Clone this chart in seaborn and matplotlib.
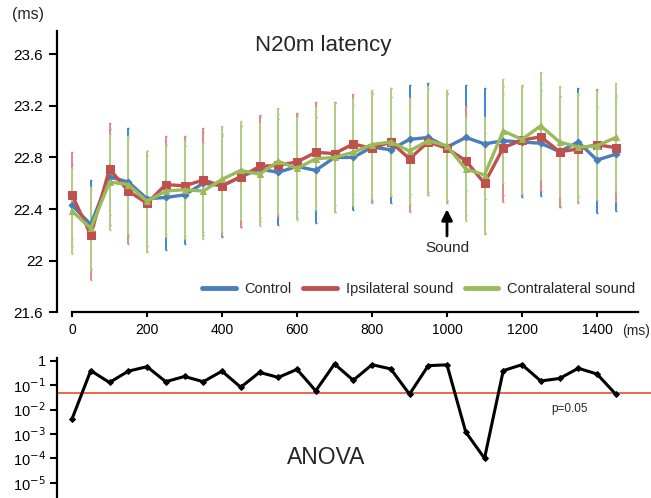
import pandas as pd
import matplotlib
matplotlib.use('Agg')
import matplotlib.pyplot as plt
import seaborn as sns
from matplotlib.lines import Line2D
from matplotlib.ticker import FuncFormatter, NullLocator

# Data
times = [0, 50, 100, 150, 200, 250, 300, 350, 400, 450, 500, 550, 600, 650, 700,
         750, 800, 850, 900, 950, 1000, 1050, 1100, 1150, 1200, 1250, 1300, 1350, 1400, 1450]

control = [22.43, 22.28, 22.65, 22.61, 22.48, 22.49, 22.51, 22.60, 22.58, 22.65,
           22.71, 22.685, 22.73, 22.70, 22.80, 22.80, 22.88, 22.86, 22.94, 22.955,
           22.88, 22.955, 22.905, 22.93, 22.92, 22.91, 22.845, 22.92, 22.78, 22.825]
ipsi = [22.51, 22.20, 22.71, 22.54, 22.445, 22.59, 22.58, 22.625, 22.58, 22.65,
        22.73, 22.74, 22.765, 22.84, 22.83, 22.905, 22.87, 22.92, 22.79, 22.92,
        22.87, 22.775, 22.60, 22.875, 22.935, 22.96, 22.845, 22.865, 22.90, 22.875]
contra = [22.385, 22.25, 22.61, 22.59, 22.46, 22.54, 22.55, 22.54, 22.63, 22.70,
          22.67, 22.77, 22.715, 22.79, 22.80, 22.84, 22.90, 22.92, 22.85, 22.93,
          22.89, 22.71, 22.665, 23.005, 22.94, 23.045, 22.92, 22.88, 22.89, 22.955]

control_err = [0.32, 0.345, 0.37, 0.42, 0.37, 0.41, 0.38, 0.40, 0.40, 0.39,
               0.40, 0.41, 0.40, 0.41, 0.42, 0.41, 0.42, 0.41, 0.42, 0.42,
               0.42, 0.41, 0.43, 0.42, 0.43, 0.41, 0.43, 0.42, 0.41, 0.44]
ipsi_err = [0.335, 0.35, 0.355, 0.41, 0.375, 0.38, 0.39, 0.40, 0.39, 0.39,
            0.40, 0.40, 0.38, 0.39, 0.40, 0.39, 0.42, 0.42, 0.41, 0.41,
            0.42, 0.42, 0.39, 0.42, 0.42, 0.42, 0.43, 0.42, 0.43, 0.42]
contra_err = [0.335, 0.32, 0.37, 0.38, 0.39, 0.36, 0.38, 0.37, 0.41, 0.385,
              0.40, 0.41, 0.40, 0.40, 0.42, 0.42, 0.42, 0.42, 0.41, 0.42,
              0.43, 0.40, 0.45, 0.40, 0.42, 0.42, 0.43, 0.42, 0.42, 0.42]

anova_p = [0.0041, 0.40, 0.13, 0.38, 0.58, 0.14, 0.23, 0.14, 0.38, 0.083,
           0.34, 0.21, 0.45, 0.059, 0.75, 0.16, 0.70, 0.47, 0.043, 0.64,
           0.69, 0.0012, 0.0001, 0.40, 0.70, 0.15, 0.19, 0.50, 0.29, 0.043]

labels = ['Control', 'Ipsilateral sound', 'Contralateral sound']
colors = ['#4a7ebb', '#c0504d', '#9bbb59']
err_colors = ['#3f86d4', '#e08a88', '#b0cf84']
markers = ['D', 's', '^']
msizes = [3.5, 5.5, 5]

sns.set_style('ticks')
plt.rcParams['font.family'] = ['Liberation Sans', 'DejaVu Sans']

fig = plt.figure(figsize=(6.51, 4.98), dpi=100)

# top panel
ax = fig.add_axes([57 / 651, 1 - 312.3 / 498, (638.25 - 57) / 651, (312.3 - 31) / 498])

series = [control, ipsi, contra]
errs = [control_err, ipsi_err, contra_err]
for vals, err, col in zip(series, errs, err_colors):
    ax.errorbar(times, vals, yerr=err, fmt='none', ecolor=col, elinewidth=1.4,
                capsize=1, zorder=1)

for vals, col, mk, ms in zip(series, colors, markers, msizes):
    sns.lineplot(x=times, y=vals, color=col, marker=mk, markersize=ms,
                 markeredgecolor=col, linewidth=2.4, ax=ax, zorder=3)

ax.set_xlim(-40, 1510)
ax.set_ylim(21.6, 23.78)
ax.set_xticks([0, 200, 400, 600, 800, 1000, 1200, 1400])
ax.set_yticks([21.6, 22.0, 22.4, 22.8, 23.2, 23.6])
ax.yaxis.set_major_formatter(FuncFormatter(lambda v, p: '%g' % round(v, 1)))
ax.spines['top'].set_visible(False)
ax.spines['right'].set_visible(False)
ax.spines['bottom'].set_bounds(0, 1510)
for s in ['left', 'bottom']:
    ax.spines[s].set_linewidth(1.6)
    ax.spines[s].set_color('black')
ax.tick_params(axis='x', direction='out', length=3.5, width=1.5, labelsize=10,
               colors='black', pad=4)
ax.tick_params(axis='y', direction='out', length=5.5, width=1.5, labelsize=11,
               colors='black', pad=4.5)
ax.set_xlabel('')
ax.set_ylabel('')

ax.text(669, 23.67, 'N20m latency', ha='center', va='center', fontsize=16)
ax.annotate('', xy=(1000, 22.42), xytext=(1000, 22.17),
            arrowprops=dict(arrowstyle='-|>', color='black', lw=2, mutation_scale=16))
ax.text(1000, 22.1, 'Sound', ha='center', va='center', fontsize=11)

handles = [Line2D([], [], color=c, lw=3.5) for c in colors]
ax.legend(handles, labels, loc='center right', bbox_to_anchor=(0.995, 0.083),
          ncol=3, frameon=False, fontsize=10.5, handlelength=2.3,
          handletextpad=0.6, columnspacing=0.8, borderaxespad=0, borderpad=0)

fig.text(28 / 651, 1 - 14 / 498, '(ms)', ha='center', va='center', fontsize=11.5)
fig.text(636 / 651, 1 - 331 / 498, '(ms)', ha='center', va='center', fontsize=10)

# bottom panel
ax2 = fig.add_axes([57 / 651, 0, (651 - 57) / 651, (498 - 358) / 498])
ax2.set_yscale('log')
sns.lineplot(x=times, y=anova_p, color='black', marker='D', markersize=3,
             markeredgecolor='black', linewidth=2.2, ax=ax2)
ax2.axhline(0.05, color='#e8502a', lw=1.2, zorder=0)
ax2.set_xlim(-40, 1544)
ax2.set_ylim(10 ** -5.63, 10 ** 0.12)
ax2.set_yticks([1, 1e-1, 1e-2, 1e-3, 1e-4, 1e-5])
ax2.set_yticklabels(['1', '10$^{-1}$', '10$^{-2}$', '10$^{-3}$', '10$^{-4}$', '10$^{-5}$'])
ax2.yaxis.set_minor_locator(NullLocator())
ax2.set_xticks([])
for s in ['top', 'right', 'bottom']:
    ax2.spines[s].set_visible(False)
ax2.spines['left'].set_linewidth(1.6)
ax2.spines['left'].set_color('black')
ax2.tick_params(axis='y', direction='out', length=5, width=1.5, labelsize=10.5,
                colors='black', pad=3)
ax2.set_xlabel('')
ax2.set_ylabel('')
ax2.text(1328, 0.0105, 'p=0.05', ha='center', va='center', fontsize=8.5)
ax2.text(677, 10 ** -3.98, 'ANOVA', ha='center', va='center', fontsize=16.5)

fig.savefig('out.png', dpi=100)
